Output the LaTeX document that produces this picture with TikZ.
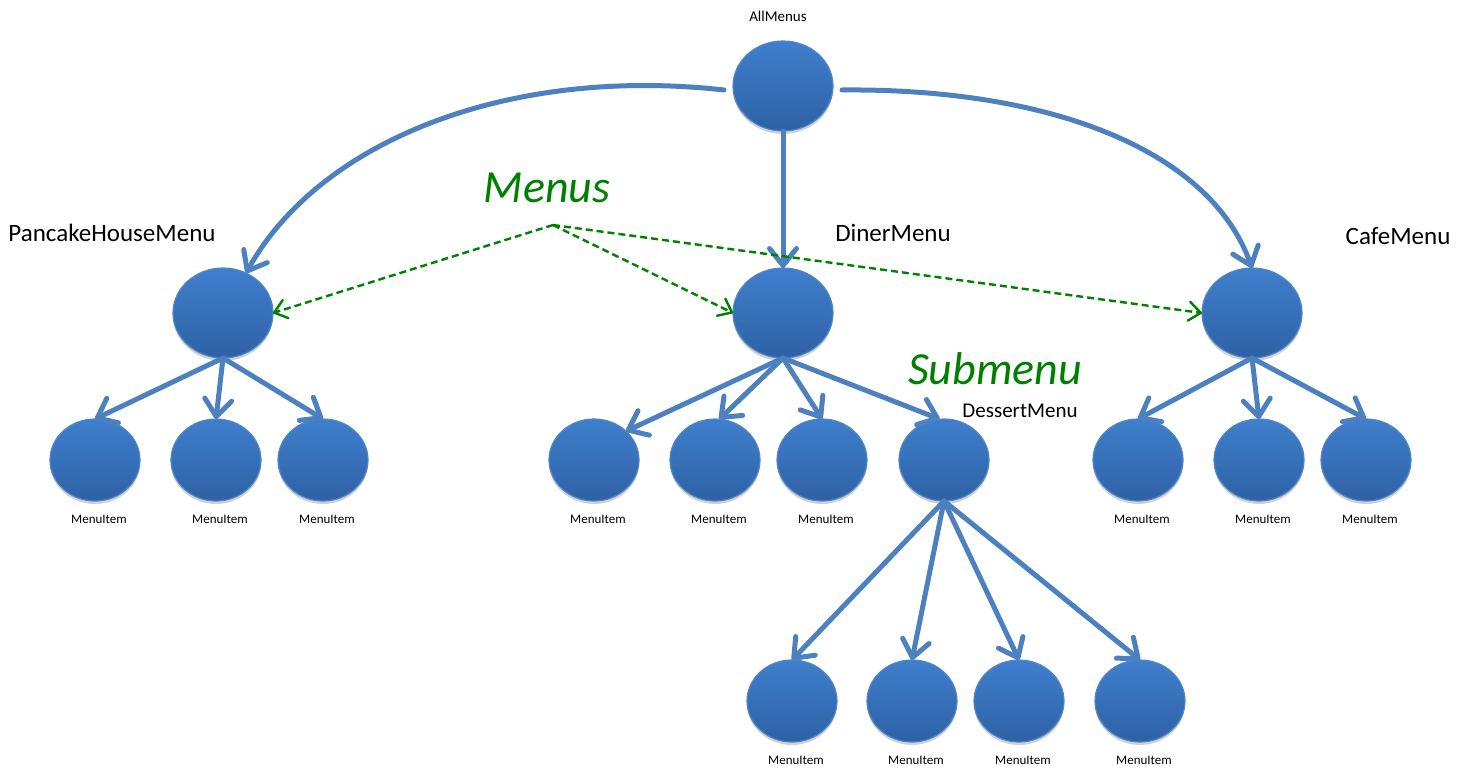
\documentclass[tikz,border=0pt]{standalone}
\usepackage{fontspec}
\setmainfont{Carlito}
\usetikzlibrary{arrows.meta,shapes.geometric,shadows}
\definecolor{edgeblue}{HTML}{4D80BF}
\definecolor{balltop}{HTML}{3F7FCD}
\definecolor{ballbot}{HTML}{2E61A4}
\definecolor{ballrim}{HTML}{4F86C6}
\definecolor{notegreen}{HTML}{008000}
\tikzset{
  ball/.style={ellipse, inner sep=0pt, outer sep=0pt, draw=ballrim, line width=1.2pt,
    top color=balltop, bottom color=ballbot,
    drop shadow={shadow xshift=0pt, shadow yshift=-3pt, opacity=0.18, fill=black}},
  bigball/.style={ball, minimum width=100pt, minimum height=90pt},
  leaf/.style={ball, minimum width=90pt, minimum height=82pt},
  edge/.style={draw=edgeblue, line width=5pt, line cap=round,
    -{Straight Barb[length=17pt, width=27pt, line width=5pt, round]}},
  note/.style={draw=notegreen, line width=2.4pt, dash pattern=on 7pt off 4pt,
    -{Straight Barb[length=12pt, width=19pt, line width=2.4pt, round]}},
  lbig/.style={font=\fontsize{25}{30}\selectfont, text=black},
  lmid/.style={font=\fontsize{21}{25}\selectfont, text=black},
  ltop/.style={font=\fontsize{15}{18}\selectfont, text=black},
  lsmall/.style={font=\fontsize{13}{16}\selectfont, text=black},
  lgreen/.style={font=\fontsize{46}{54}\selectfont\itshape, text=notegreen},
}
\begin{document}
\begin{tikzpicture}[x=1pt, y=-1pt]
\useasboundingbox (0,0) rectangle (1458,769);

% composite menus
\node[bigball] (all)     at (783,86)  {};
\node[bigball] (pancake) at (223,313) {};
\node[bigball] (diner)   at (783,313) {};
\node[bigball] (cafe)    at (1252,313) {};

% first level items and the dessert submenu
\node[leaf] (p1) at (95,460)  {};
\node[leaf] (p2) at (216,460) {};
\node[leaf] (p3) at (323,460) {};
\node[leaf] (d1) at (594,460) {};
\node[leaf] (d2) at (715,460) {};
\node[leaf] (d3) at (822,460) {};
\node[leaf] (dessert) at (944,460) {};
\node[leaf] (c1) at (1138,460) {};
\node[leaf] (c2) at (1259,460) {};
\node[leaf] (c3) at (1366,460) {};

% dessert items
\node[leaf] (s1) at (792,701)  {};
\node[leaf] (s2) at (912,701)  {};
\node[leaf] (s3) at (1019,701) {};
\node[leaf] (s4) at (1140,701) {};

% captions
\node[ltop]  (tall)     at (778,16)   {AllMenus};
\node[lbig]  (tpancake) at (112,233)  {PancakeHouseMenu};
\node[lbig]  (tdiner)   at (893,233)  {DinerMenu};
\node[lbig]  (tcafe)    at (1398,236) {CafeMenu};
\node[lmid]  (tdessert) at (1020,411) {DessertMenu};
\node[lgreen] (tmenus)  at (547,188)  {Menus};
\node[lgreen] (tsub)    at (995,369)  {Submenu};

\foreach \n in {p1,p2,p3,d1,d2,d3,c1,c2,c3,s1,s2,s3,s4}
  \node[lsmall] (l\n) at ([xshift=4pt, yshift=-59pt]\n) {MenuItem};

% root links
\draw[edge] ([xshift=-9pt, yshift=-4pt]all.west)
  .. controls (510,66) and (320,140) .. (pancake.60);
\draw[edge] ([xshift=9pt, yshift=-4pt]all.east)
  .. controls (1050,88) and (1210,150) .. (cafe.north);
\draw[edge] (all.south) -- (diner.north);

% children of the menus
\foreach \c in {p1,p2,p3} \draw[edge] (pancake.south) -- (\c.north);
\draw[edge] (diner.south) -- (d1.42);
\draw[edge] (diner.south) -- (d2.84);
\draw[edge] (diner.south) -- (d3.north);
\draw[edge] (diner.south) -- (dessert.96);
\foreach \c in {c1,c2,c3} \draw[edge] (cafe.south) -- (\c.north);
\foreach \c in {s1,s2,s3,s4} \draw[edge] (dessert.south) -- (\c.north);

% pointers from the "Menus" caption
\coordinate (mroot) at (553,225);
\draw[note] (mroot) -- (pancake.east);
\draw[note] (mroot) -- (diner.west);
\draw[note] (mroot) -- (cafe.west);
\end{tikzpicture}
\end{document}
